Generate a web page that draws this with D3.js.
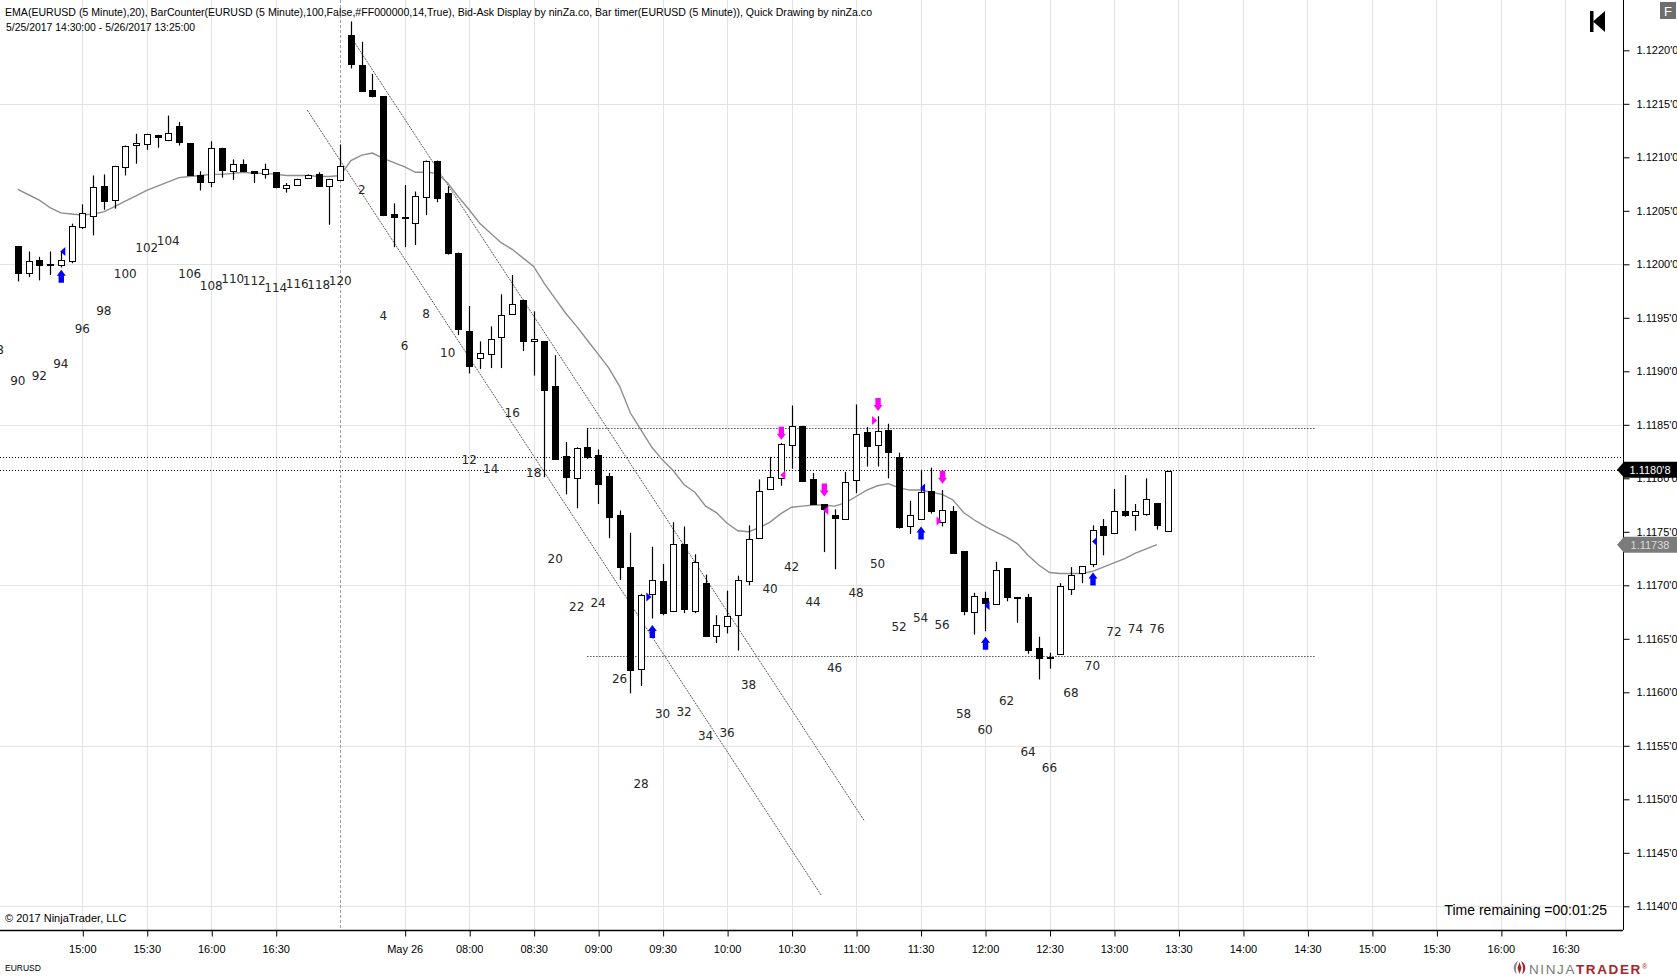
<!DOCTYPE html>
<html>
<head>
<meta charset="utf-8">
<script src="https://cdn.jsdelivr.net/npm/d3@7"></script>
<style>
  body { margin: 0; background: #fff; }
  svg { display: block; }
</style>
</head>
<body>
<script>
// EURUSD 5 minute bars, slot 0 = 5/25 14:30, slot 30 = 17:00 (session end), slot 31 = 5/26 07:05
var barOpen = [
  1.12017,1.11992,1.12004,1.12000,1.11999,1.12003,1.12035,1.12045,1.12073,1.12060,
  1.12091,1.12111,1.12113,1.12121,1.12116,1.12129,1.12113,1.12083,1.12077,1.12109,
  1.12087,1.12094,1.12087,1.12084,1.12086,1.12071,1.12074,1.12080,1.12084,1.12073,
  1.12079,
  1.12214,1.12186,1.12163,1.12157,1.12047,1.12044,1.12039,1.12063,1.12097,
  1.12067,1.12011,1.11938,1.11912,1.11916,1.11932,1.11954,1.11967,1.11928,1.11928,
  1.11886,1.11821,1.11800,1.11829,1.11822,1.11802,1.11766,1.11717,1.11622,1.11692,
  1.11704,1.11676,1.11739,1.11676,1.11702,1.11653,1.11662,1.11672,1.11704,1.11744,
  1.11790,1.11800,1.11831,1.11849,1.11799,1.11776,1.11766,1.11762,1.11798,1.11843,
  1.11831,1.11845,1.11820,1.11756,1.11762,1.11788,1.11759,1.11769,1.11732,1.11675,
  1.11688,1.11682,1.11716,1.11689,1.11689,1.11641,1.11632,1.11635,1.11697,1.11711,
  1.11720,1.11755,1.11748,1.11769,1.11765,1.11767,1.11777,1.11751
];
var barHigh = [
  1.12017,1.12012,1.12007,1.12012,1.12012,1.12038,1.12056,1.12083,1.12084,1.12092,
  1.12111,1.12122,1.12122,1.12121,1.12139,1.12133,1.12113,1.12087,1.12115,1.12109,
  1.12098,1.12098,1.12087,1.12094,1.12086,1.12076,1.12080,1.12084,1.12086,1.12080,
  1.12112,
  1.12227,1.12208,1.12178,1.12157,1.12057,1.12074,1.12068,1.12097,1.12097,
  1.12073,1.12011,1.11961,1.11928,1.11942,1.11972,1.11990,1.11967,1.11956,1.11928,
  1.11915,1.11834,1.11829,1.11847,1.11827,1.11805,1.11770,1.11749,1.11692,1.11736,
  1.11720,1.11759,1.11755,1.11729,1.11710,1.11672,1.11695,1.11709,1.11756,1.11799,
  1.11820,1.11833,1.11868,1.11849,1.11805,1.11776,1.11771,1.11806,1.11869,1.11848,
  1.11858,1.11851,1.11824,1.11779,1.11808,1.11810,1.11789,1.11774,1.11732,1.11693,
  1.11694,1.11722,1.11716,1.11689,1.11692,1.11652,1.11637,1.11702,1.11717,1.11718,
  1.11756,1.11762,1.11790,1.11803,1.11776,1.11800,1.11777,1.11807
];
var barLow = [
  1.11984,1.11988,1.11985,1.11990,1.11997,1.12001,1.12033,1.12027,1.12051,1.12052,
  1.12083,1.12094,1.12107,1.12109,1.12115,1.12111,1.12083,1.12069,1.12072,1.12081,
  1.12079,1.12087,1.12076,1.12080,1.12071,1.12067,1.12074,1.12080,1.12073,1.12037,
  1.12079,
  1.12183,1.12162,1.12156,1.12045,1.12016,1.12016,1.12018,1.12046,1.12058,
  1.12009,1.11934,1.11898,1.11902,1.11903,1.11903,1.11954,1.11919,1.11896,1.11801,
  1.11818,1.11785,1.11772,1.11818,1.11776,1.11744,1.11705,1.11599,1.11606,1.11669,
  1.11672,1.11676,1.11674,1.11674,1.11652,1.11646,1.11655,1.11639,1.11700,1.11744,
  1.11790,1.11793,1.11809,1.11798,1.11776,1.11731,1.11715,1.11762,1.11786,1.11811,
  1.11811,1.11800,1.11753,1.11748,1.11762,1.11767,1.11755,1.11730,1.11672,1.11654,
  1.11657,1.11682,1.11685,1.11665,1.11636,1.11612,1.11622,1.11635,1.11691,1.11702,
  1.11717,1.11728,1.11748,1.11764,1.11751,1.11765,1.11752,1.11750
];
var barClose = [
  1.11992,1.12003,1.11999,1.11999,1.12004,1.12036,1.12048,1.12072,1.12059,1.12092,
  1.12111,1.12113,1.12122,1.12119,1.12123,1.12114,1.12083,1.12076,1.12109,1.12088,
  1.12094,1.12087,1.12085,1.12089,1.12072,1.12074,1.12080,1.12083,1.12073,1.12080,
  1.12092,
  1.12187,1.12162,1.12157,1.12046,1.12044,1.12043,1.12064,1.12097,1.12062,
  1.12011,1.11940,1.11905,1.11917,1.11930,1.11953,1.11963,1.11929,1.11930,1.11882,
  1.11818,1.11801,1.11828,1.11820,1.11795,1.11764,1.11717,1.11621,1.11691,1.11705,
  1.11674,1.11739,1.11678,1.11722,1.11652,1.11663,1.11671,1.11705,1.11743,1.11788,
  1.11801,1.11832,1.11849,1.11798,1.11776,1.11771,1.11763,1.11797,1.11841,1.11830,
  1.11844,1.11824,1.11755,1.11766,1.11787,1.11769,1.11770,1.11730,1.11676,1.11690,
  1.11683,1.11714,1.11689,1.11688,1.11639,1.11632,1.11633,1.11699,1.11710,1.11718,
  1.11752,1.11747,1.11769,1.11765,1.11769,1.11781,1.11756,1.11807
];
// EMA(20), plotted up to the last closed bar
var emaValues = [
  1.12070,1.12065,1.12060,1.12053,1.12048,1.12047,1.12046,1.12047,1.12049,1.12054,
  1.12059,1.12064,1.12069,1.12073,1.12077,1.12081,1.12082,1.12083,1.12084,1.12084,
  1.12085,1.12086,1.12085,1.12085,1.12084,1.12083,1.12083,1.12083,1.12082,1.12082,
  1.12083,
  1.12097,1.12102,1.12104,1.12099,1.12095,1.12091,1.12086,1.12086,1.12085,
  1.12076,1.12063,1.12051,1.12038,1.12029,1.12020,1.12014,1.12006,1.11998,1.11982,
  1.11968,1.11954,1.11942,1.11929,1.11916,1.11903,1.11886,1.11861,1.11845,1.11829,
  1.11817,1.11807,1.11794,1.11787,1.11774,1.11768,1.11758,1.11751,1.11750,1.11754,
  1.11759,1.11767,1.11773,1.11774,1.11775,1.11775,1.11774,1.11777,1.11783,1.11789,
  1.11793,1.11795,1.11791,1.11789,1.11789,1.11787,1.11785,1.11780,1.11768,1.11761,
  1.11755,1.11750,1.11745,1.11739,1.11728,1.11719,1.11712,1.11711,1.11711,1.11711,
  1.11713,1.11717,1.11721,1.11725,1.11730,1.11734,1.11738
];

// BarCounter labels (every second bar) and the price level they sit at
var day1Counts = [88,90,92,94,96,98,100,102,104,106,108,110,112,114,116,118,120];
var day1CountY = [1.11920,1.11891,1.11896,1.11907,1.11940,1.11956,1.11991,1.12015,1.12022,1.11991,1.11980,1.11986,1.11984,1.11978,1.11982,1.11981,1.11984];
var day2Counts = [2,4,6,8,10,12,14,16,18,20,22,24,26,28,30,32,34,36,38,40,42,44,46,48,50,52,54,56,58,60,62,64,66,68,70,72,74,76];
var day2CountY = [1.12069,1.11952,1.11924,1.11954,1.11917,1.11817,1.11809,1.11861,1.11805,1.11725,1.11680,1.11683,1.11612,1.11514,1.11580,1.11582,1.11559,1.11562,1.11607,1.11697,1.11717,1.11684,1.11623,1.11693,1.11720,1.11661,1.11669,1.11663,1.11580,1.11565,1.11592,1.11544,1.11529,1.11599,1.11625,1.11656,1.11659,1.11659];

// bid-ask / quick drawing markers: slot, price, kind, colour
var markSlot  = [4, 59, 84, 90, 100, 71, 75, 80, 86, 4, 59, 84, 90, 100, 71, 75, 80, 86];
var markPrice = [1.11995,1.11663,1.11755,1.11652,1.11712, 1.11836,1.11783,1.11863,1.11795,
                 1.12012,1.11689,1.11791,1.11681,1.11741, 1.11803,1.11770,1.11854,1.11760];
var markKind  = ["up","up","up","up","up","down","down","down","down",
                 "left","right","left","left","left","left","left","right","right"];
var markColor = ["b","b","b","b","b","m","m","m","m","b","b","b","b","b","m","m","m","m"];

// drawn objects
var channelA = [[26.94, 1.12144], [74.78, 1.11410]];
var channelB = [[31.22, 1.12209], [78.76, 1.11480]];
var levelPrices = [1.11847, 1.11634];
var levelFrom = 53, levelTo = 120.8;
var fullLines = [1.11820];
var lastPrice = 1.11808;
var sessionBreak = 30;

var tickTimes = ["25 15:00","25 15:30","25 16:00","25 16:30","26 07:30","26 08:00","26 08:30","26 09:00",
  "26 09:30","26 10:00","26 10:30","26 11:00","26 11:30","26 12:00","26 12:30","26 13:00","26 13:30",
  "26 14:00","26 14:30","26 15:00","26 15:30","26 16:00","26 16:30"];
var tickLabels = ["15:00","15:30","16:00","16:30","May 26","08:00","08:30","09:00","09:30","10:00","10:30",
  "11:00","11:30","12:00","12:30","13:00","13:30","14:00","14:30","15:00","15:30","16:00","16:30"];
var priceTicks = d3.range(0, 17).map(function(k){ return +(1.1140 + k*0.0005).toFixed(4); });
var gridPrices = d3.range(0, 6).map(function(k){ return +(1.1140 + k*0.0015).toFixed(4); });

function slotOf(t) {
  var day = +t.slice(0,2), hm = t.slice(3).split(":");
  var m = (+hm[0])*60 + (+hm[1]);
  return day == 25 ? (m - 870)/5 : 30 + (m - 420)/5;
}

var W = 1677, H = 978, axisX = 1623, axisY = 930;

var svg = d3.select("body").append("svg")
  .attr("width", W).attr("height", H)
  .style("font-family", "'Liberation Sans', Arial, sans-serif");

var x = d3.scaleLinear().domain([0, 144]).range([17.8, 17.8 + 144*10.747]);
var y = d3.scaleLinear().domain([1.1140, 1.1220]).range([906.3, 50.3]);
var px = function(v){ return Math.round(v) + 0.5; };

var plot = svg.append("g");
plot.append("clipPath").attr("id","clip")
  .append("rect").attr("x",0).attr("y",0).attr("width",axisX).attr("height",axisY);

//grid
var tickSlots = tickTimes.map(slotOf);
plot.selectAll(".vgrid").data(tickSlots).enter().append("line")
  .attr("x1", function(d){ return px(x(d)); }).attr("x2", function(d){ return px(x(d)); })
  .attr("y1", 0).attr("y2", axisY)
  .attr("stroke", "#e3e3e3").attr("stroke-width", 1);
plot.selectAll(".hgrid").data(gridPrices).enter().append("line")
  .attr("x1", 0).attr("x2", axisX)
  .attr("y1", function(d){ return px(y(d)); }).attr("y2", function(d){ return px(y(d)); })
  .attr("stroke", "#e3e3e3").attr("stroke-width", 1);

// session break
plot.append("line")
  .attr("x1", px(x(sessionBreak))).attr("x2", px(x(sessionBreak)))
  .attr("y1", 0).attr("y2", axisY)
  .attr("stroke", "#a0a0a0").attr("stroke-dasharray", "3,2");

// header
svg.append("text").attr("x", 5).attr("y", 15.5).attr("font-size", 10.5).attr("fill", "#000")
  .attr("textLength", 867).attr("lengthAdjust", "spacingAndGlyphs")
  .text("EMA(EURUSD (5 Minute),20), BarCounter(EURUSD (5 Minute),100,False,#FF000000,14,True), Bid-Ask Display by ninZa.co, Bar timer(EURUSD (5 Minute)), Quick Drawing by ninZa.co");
svg.append("text").attr("x", 6).attr("y", 30.5).attr("font-size", 10.5).attr("fill", "#000")
  .attr("textLength", 189).attr("lengthAdjust", "spacingAndGlyphs")
  .text("5/25/2017 14:30:00 - 5/26/2017 13:25:00");

var g = plot.append("g").attr("clip-path", "url(#clip)");

// horizontal levels
g.selectAll(".lvl").data(levelPrices).enter().append("line")
  .attr("x1", x(levelFrom)).attr("x2", x(levelTo))
  .attr("y1", function(d){ return px(y(d)); }).attr("y2", function(d){ return px(y(d)); })
  .attr("stroke", "#000").attr("stroke-dasharray", "1,2");
g.selectAll(".full").data(fullLines).enter().append("line")
  .attr("x1", 0).attr("x2", axisX)
  .attr("y1", function(d){ return px(y(d)); }).attr("y2", function(d){ return px(y(d)); })
  .attr("stroke", "#000").attr("stroke-dasharray", "1,2");
g.append("line")
  .attr("x1", 0).attr("x2", axisX)
  .attr("y1", px(y(lastPrice))).attr("y2", px(y(lastPrice)))
  .attr("stroke", "#000").attr("stroke-dasharray", "1,2");

// channel lines
[channelA, channelB].forEach(function(c){
  g.append("line")
    .attr("x1", x(c[0][0])).attr("y1", y(c[0][1]))
    .attr("x2", x(c[1][0])).attr("y2", y(c[1][1]))
    .attr("stroke", "#4a4a4a").attr("stroke-width", 0.9)
    .attr("stroke-dasharray", "2,1");
});

// EMA
g.append("path")
  .datum(emaValues)
  .attr("fill", "none").attr("stroke", "#8e8e8e").attr("stroke-width", 1.4)
  .attr("d", d3.line().x(function(d,i){ return x(i); }).y(function(d){ return y(d); }));

// candles
var bars = d3.range(barOpen.length);
var candle = g.selectAll(".bar").data(bars).enter().append("g");
candle.append("line")
  .attr("x1", function(i){ return px(x(i)); }).attr("x2", function(i){ return px(x(i)); })
  .attr("y1", function(i){ return y(barHigh[i]); }).attr("y2", function(i){ return y(barLow[i]); })
  .attr("stroke", "#000").attr("stroke-width", 1.2);
candle.append("rect")
  .attr("x", function(i){ return Math.round(x(i)) - 2.5; })
  .attr("width", 6)
  .attr("y", function(i){ return Math.round(y(Math.max(barOpen[i], barClose[i]))) + 0.5; })
  .attr("height", function(i){ return Math.max(1, Math.round(Math.abs(y(barOpen[i]) - y(barClose[i])))); })
  .attr("fill", function(i){ return barClose[i] >= barOpen[i] ? "#fff" : "#000"; })
  .attr("stroke", "#000").attr("stroke-width", 1);

// markers
var colorOf = { b: "#0000ff", m: "#ff00ff" };
function markPath(k, cx, cy) {
  if (k == "up") return "M"+cx+","+cy+"l4.5,6h-1.8v7h-5.4v-7h-1.8z";
  if (k == "down") return "M"+cx+","+cy+"l4.5,-6h-1.8v-7h-5.4v7h-1.8z";
  if (k == "left") return "M"+(cx-1)+","+cy+"l5,-4.5v9z";
  return "M"+(cx-1)+","+cy+"l-5,-4.5v9z";
}
g.selectAll(".mark").data(markSlot).enter().append("path")
  .attr("d", function(d,i){ return markPath(markKind[i], x(d)+0.5, y(markPrice[i])); })
  .attr("fill", function(d,i){ return colorOf[markColor[i]]; });

// bar counter
var counterFont = "'DejaVu Sans', Verdana, sans-serif";
g.selectAll(".c1").data(day1Counts).enter().append("text")
  .attr("x", function(d){ return x(d - 90); })
  .attr("y", function(d,i){ return y(day1CountY[i]); })
  .attr("text-anchor", "middle").attr("dominant-baseline", "central")
  .attr("font-family", counterFont).attr("font-size", 12).attr("fill", "#262626")
  .text(function(d){ return d; });
g.selectAll(".c2").data(day2Counts).enter().append("text")
  .attr("x", function(d){ return x(d + 30); })
  .attr("y", function(d,i){ return y(day2CountY[i]); })
  .attr("text-anchor", "middle").attr("dominant-baseline", "central")
  .attr("font-family", counterFont).attr("font-size", 12).attr("fill", "#262626")
  .text(function(d){ return d; });

// axes
svg.append("line").attr("x1", px(axisX)).attr("x2", px(axisX)).attr("y1", 0).attr("y2", axisY)
  .attr("stroke", "#000");
svg.append("line").attr("x1", 0).attr("x2", axisX).attr("y1", px(axisY)).attr("y2", px(axisY))
  .attr("stroke", "#000").attr("stroke-width", 1.5);

var yAxis = svg.append("g")
  .attr("transform", "translate(" + px(axisX) + ",0)")
  .call(d3.axisRight(y).tickValues(priceTicks).tickSize(6).tickPadding(7)
    .tickFormat(function(d){ return d3.format(".4f")(d) + "'0"; }));
yAxis.select(".domain").remove();
yAxis.selectAll("text").attr("font-size", 11).attr("font-family", "'Liberation Sans', Arial, sans-serif").attr("fill", "#000");

var xAxis = svg.append("g")
  .attr("transform", "translate(0," + px(axisY) + ")")
  .call(d3.axisBottom(x).tickValues(tickSlots).tickSize(6).tickPadding(9)
    .tickFormat(function(d,i){ return tickLabels[i]; }));
xAxis.select(".domain").remove();
xAxis.selectAll(".tick line").attr("transform", "translate(0.5,0)");
xAxis.selectAll("text").attr("font-size", 11).attr("font-family", "'Liberation Sans', Arial, sans-serif").attr("fill", "#000");

// price tags on the axis
function tag(price, fill, txtColor, label) {
  var cy = y(price);
  svg.append("path")
    .attr("d", "M" + (axisX - 6) + "," + cy + "l7,-8h" + (W - axisX) + "v16h-" + (W - axisX) + "z")
    .attr("fill", fill);
  svg.append("text").attr("x", axisX + 27).attr("y", cy)
    .attr("text-anchor", "middle").attr("dominant-baseline", "central")
    .attr("font-size", 11).attr("fill", txtColor).text(label);
}
tag(emaValues[emaValues.length - 1], "#7b7b7b", "#d9d9d9", "1.11738");
tag(lastPrice, "#000", "#fff", "1.1180'8");

// top right widgets
svg.append("rect").attr("x", 1590).attr("y", 11).attr("width", 3.5).attr("height", 21).attr("fill", "#000");
svg.append("path").attr("d", "M1593,21.5l12,-10.5v21z").attr("fill", "#000");
svg.append("rect").attr("x", 1660).attr("y", 2).attr("width", 16).attr("height", 17).attr("fill", "#6e6e6e");
svg.append("text").attr("x", 1668).attr("y", 15.5).attr("text-anchor", "middle")
  .attr("font-size", 13).attr("fill", "#fff").text("F");

// footer texts
svg.append("text").attr("x", 5).attr("y", 922).attr("font-size", 11).attr("fill", "#000")
  .text("\u00a9 2017 NinjaTrader, LLC");
svg.append("text").attr("x", 1607).attr("y", 915).attr("text-anchor", "end")
  .attr("font-size", 14).attr("fill", "#000").text("Time remaining =00:01:25");
svg.append("text").attr("x", 5).attr("y", 971).attr("font-size", 8.5).attr("fill", "#000").text("EURUSD");

var logo = svg.append("g").attr("transform", "translate(1512,968)");
logo.append("path").attr("d", "M6,-7c-5,2 -6,10 -1,13c-2,-4 -1,-9 1,-13z").attr("fill", "#8a8a8a");
logo.append("path").attr("d", "M9,-7c5,2 6,10 1,13c2,-4 1,-9 -1,-13z").attr("fill", "#a3262a");
logo.append("path").attr("d", "M7.5,-6l2,6l-2,6l-2,-6z").attr("fill", "#a3262a");
var lt = logo.append("text").attr("x", 17).attr("y", 5.5).attr("font-size", 13.5)
  .attr("letter-spacing", 1.6);
lt.append("tspan").attr("fill", "#7a7a7a").text("NINJA");
lt.append("tspan").attr("fill", "#a3262a").attr("font-weight", "bold").text("TRADER");
lt.append("tspan").attr("fill", "#a3262a").attr("font-size", 7).attr("dy", -5).text("\u00ae");
</script>
</body>
</html>
